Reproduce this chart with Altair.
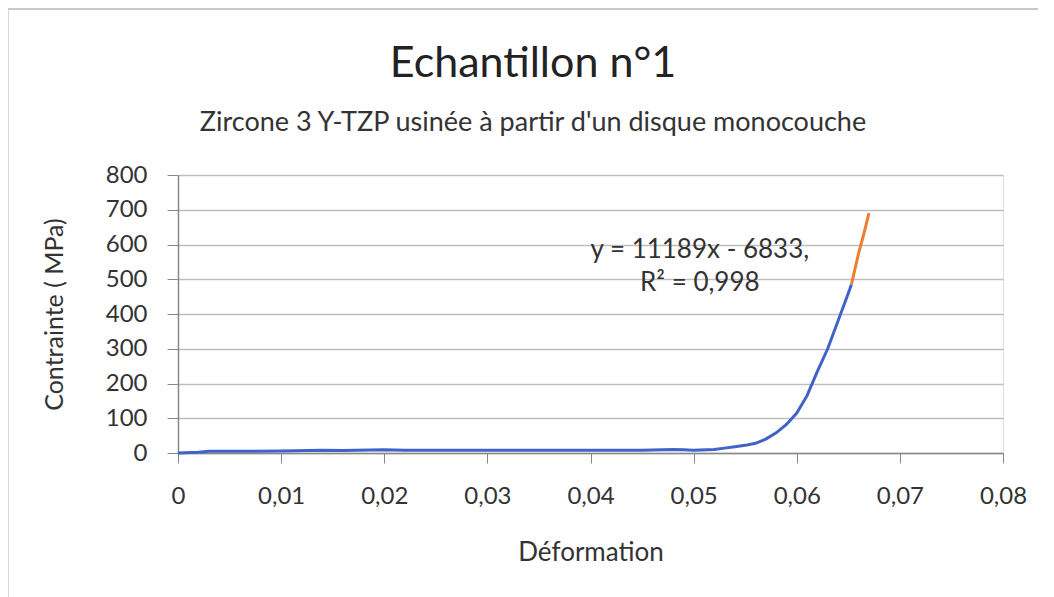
import altair as alt
import pandas as pd

# Blue series (déformation, contrainte)
blue_x = [0, 0.002, 0.003, 0.006, 0.010, 0.014, 0.016, 0.020, 0.022, 0.026, 0.030,
          0.035, 0.040, 0.045, 0.048, 0.049, 0.050, 0.052, 0.053, 0.054, 0.055,
          0.056, 0.057, 0.058, 0.059, 0.060, 0.061, 0.062, 0.063, 0.064, 0.065, 0.0653]
blue_y = [0, 2, 5, 5, 6, 8, 7, 9, 8, 8, 8,
          8, 8, 8, 10, 9, 8, 10, 14, 18, 22,
          28, 40, 58, 82, 115, 165, 235, 300, 380, 460, 485]

# Orange series (linear part)
orange_x = [0.0653, 0.066, 0.0665, 0.067]
orange_y = [485, 575, 630, 690]

# Annotation
ann_x = [0.0506, 0.0506]
ann_y = [584, 489]
ann_text = ["y = 11189x - 6833,", "R² = 0,998"]

x_ticks = [0, 0.01, 0.02, 0.03, 0.04, 0.05, 0.06, 0.07, 0.08]
y_ticks = [0, 100, 200, 300, 400, 500, 600, 700, 800]

FONT = "Lato"
W, H = 825, 278

df_blue = pd.DataFrame({"x": blue_x, "y": blue_y})
df_orange = pd.DataFrame({"x": orange_x, "y": orange_y})
df_ann = pd.DataFrame({"x": ann_x, "y": ann_y, "t": ann_text})

xscale = alt.Scale(domain=[0, 0.08], nice=False, zero=True)
yscale = alt.Scale(domain=[0, 800], nice=False)

xaxis = alt.Axis(
    values=x_ticks, title="Déformation", grid=False, labelOverlap=False,
    labelExpr="datum.value == 0 ? '0' : replace(format(datum.value, '.2f'), '.', ',')",
    labelFont=FONT, labelFontSize=24, labelColor="#333333", labelPadding=21,
    labelFlush=False,
    tickSize=10, tickColor="#888888", domainColor="#888888", domainWidth=1.5,
    titleFont=FONT, titleFontSize=26, titleFontWeight="normal", titleColor="#333333",
    titlePadding=31,
)
yaxis = alt.Axis(
    values=y_ticks, title="Contrainte ( MPa)", grid=True, labelOverlap=False,
    labelFlush=False, tickCount=9,
    gridColor="#BEBEBE", gridWidth=1.5,
    labelFont=FONT, labelFontSize=24, labelColor="#333333", labelPadding=20,
    tickSize=11, tickColor="#888888", domainColor="#888888", domainWidth=1.5,
    titleFont=FONT, titleFontSize=25, titleFontWeight="normal", titleColor="#333333",
    titlePadding=38,
)


def enc(ch):
    return ch.encode(
        x=alt.X("x:Q", scale=xscale, axis=xaxis),
        y=alt.Y("y:Q", scale=yscale, axis=yaxis),
    )


base_blue = enc(alt.Chart(df_blue).mark_line(color="#3F63C8", strokeWidth=3))
orange = enc(alt.Chart(df_orange).mark_line(color="#ED7D31", strokeWidth=3))
ann = enc(alt.Chart(df_ann).mark_text(
    font=FONT, fontSize=26, color="#333333", align="center", baseline="middle"
)).encode(text="t:N")

# Outer frame (top and left edges only, as in the reference)
frame_top = alt.Chart(pd.DataFrame({"a": [0]})).mark_rule(
    color="#C8C8C8", strokeWidth=2, clip=False
).encode(x=alt.value(-170), x2=alt.value(880), y=alt.value(-166))
frame_left = alt.Chart(pd.DataFrame({"a": [0]})).mark_rule(
    color="#D8D8D8", strokeWidth=2, clip=False
).encode(x=alt.value(-170), y=alt.value(-166), y2=alt.value(422))

chart = alt.layer(frame_top, frame_left, base_blue, orange, ann).properties(
    width=W, height=H,
    title=alt.TitleParams(
        text="Echantillon n°1",
        subtitle="Zircone 3 Y-TZP usinée à partir d'un disque monocouche",
        font=FONT, fontSize=43, fontWeight="normal", color="#222222",
        subtitleFont=FONT, subtitleFontSize=27, subtitleColor="#333333",
        subtitlePadding=24, anchor="middle", frame="bounds", offset=0, dy=128,
    ),
    padding={"left": 170, "top": 167, "right": 35, "bottom": 144},
    autosize=alt.AutoSizeParams(type="none"),
).configure_view(stroke=None).configure(background="white")

chart.save("out.html", embed_options={"renderer": "svg", "actions": False})
